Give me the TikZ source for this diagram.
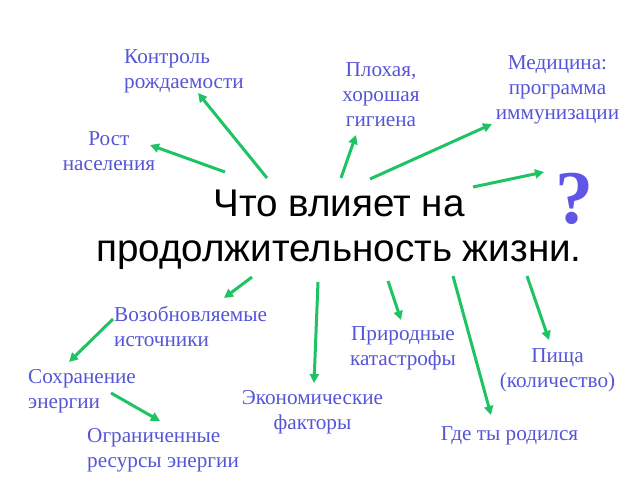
\documentclass[tikz,border=0pt]{standalone}
\usepackage{fontspec}
\setmainfont{Liberation Serif}
\newfontfamily\headfont{Liberation Sans}
\usepackage{xcolor}
\usetikzlibrary{arrows.meta,calc,positioning}
\definecolor{labelblue}{RGB}{85,85,215}
\definecolor{arrowgreen}{RGB}{30,195,100}
\definecolor{qmark}{RGB}{95,85,230}

\begin{document}
\begin{tikzpicture}[x=1pt, y=-1pt,
        lbl/.style={text=labelblue, inner sep=0pt, font=\fontsize{21.2}{25}\selectfont},
        arr/.style={-{Triangle[length=9pt,width=9pt]}, line width=3pt, arrowgreen}]
        \useasboundingbox (0,0) rectangle (640,480);
        \node[inner sep=0pt, align=center, font=\headfont\fontsize{38.6}{44.5}\selectfont] (main) at (339,229.5) {Что влияет на\\продолжительность жизни.};
        \node[text=qmark, inner sep=0pt, font=\bfseries\fontsize{76}{76}\selectfont] (query) at (574,199) {?};
        % labels centred on their lines
        \foreach \n/\x/\y/\t in {growth/109/151/{Рост\\населения}, hygiene/381/94.5/{Плохая,\\хорошая\\гигиена},
            medicine/557.5/89.5/{Медицина:\\программа\\иммунизации}, nature/403/348/{Природные\\катастрофы},
            food/557.5/370.5/{Пища\\(количество)}, econ/312.5/412.5/{Экономические\\факторы}, born/509.5/435.5/{Где ты родился}}
            {\node[lbl, align=center] (\n) at (\x,\y) {\t};}
        % labels flush left
        \foreach \n/\x/\y/\t in {birth/124/71/{Контроль\\рождаемости}, renew/114/326.5/{Возобновляемые\\источники},
            saving/28/391/{Сохранение\\энергии}, limited/87/450/{Ограниченные\\ресурсы энергии}}
            {\node[lbl, align=left, anchor=west] (\n) at (\x,\y) {\t};}
        \draw[arr] ($(main)+(-72,-51.5)$) -- ($(birth.west)+(74,22)$);
        \draw[arr] ($(main)+(-114,-57.5)$) -- ($(growth)+(41,-6)$);
        \draw[arr] ($(main)+(2,-51.5)$) -- ($(hygiene)+(-25,40.5)$);
        \draw[arr] ($(main)+(31,-50.5)$) -- ($(medicine)+(-65.5,34.5)$);
        \draw[arr] ($(main)+(134,-42.5)$) -- ($(query)+(-30,-27)$);
        \draw[arr] ($(main)+(-87,47.5)$) -- ($(renew.west)+(110,-28.5)$);
        \draw[arr] ($(renew.west)+(-1,-7.5)$) -- ($(saving.west)+(41,-29)$);
        \draw[arr] ($(saving.west)+(83,2)$) -- ($(limited.west)+(73,-29)$);
        \draw[arr] ($(main)+(-21,52.5)$) -- ($(econ)+(1.5,-29.5)$);
        \draw[arr] ($(main)+(49,51.5)$) -- ($(nature)+(-2,-28)$);
        \draw[arr] ($(main)+(114,46.5)$) -- ($(born)+(-18.5,-20.5)$);
        \draw[arr] ($(main)+(188,46.5)$) -- ($(food)+(-8.5,-30.5)$);
\end{tikzpicture}
\end{document}
